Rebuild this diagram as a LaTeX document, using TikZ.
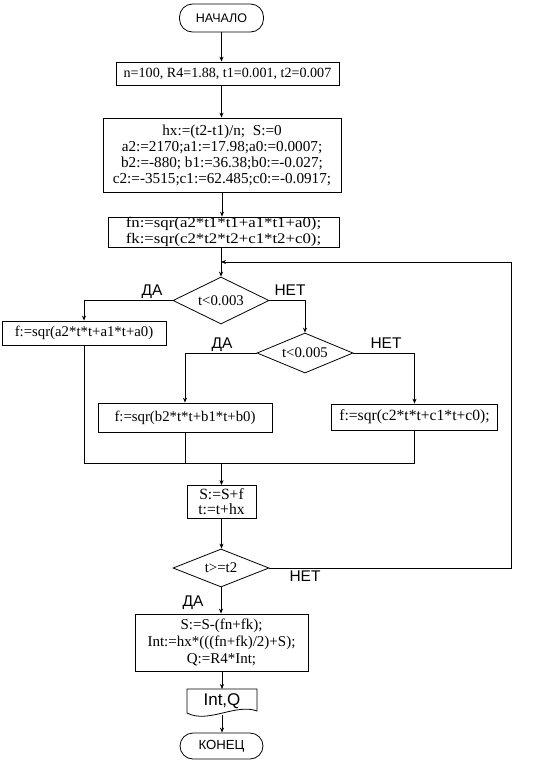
\documentclass[tikz,border=0pt]{standalone}
\usepackage{fontspec}
\setmainfont{Liberation Serif}
\setsansfont{Liberation Sans}
\newfontfamily\wideserif[FakeStretch=1.15]{Liberation Serif}
\usetikzlibrary{shapes.geometric,arrows.meta}
\begin{document}
\begin{tikzpicture}[x=1pt,y=-1pt,
  line width=0.8pt,
  every node/.style={font=\fontsize{14.8}{16}\selectfont, align=center, inner sep=0pt},
  box/.style={draw, rectangle},
  term/.style={draw, rectangle, rounded corners=13pt},
  cond/.style={draw, diamond, aspect=2, minimum width=96pt},
  lbl/.style={font=\sffamily\fontsize{15.5}{17}\selectfont},
  arr/.style={-{Stealth[length=5pt,width=4pt]}}]
\useasboundingbox (0,0) rectangle (533,777);

\node[term, minimum width=84pt, minimum height=28pt, font=\sffamily\fontsize{12.5}{14}\selectfont] (start) at (221.5,18) {НАЧАЛО};
\node[box, minimum width=223pt, minimum height=23pt, font=\fontsize{14.1}{16}\selectfont] (box1) at (227.5,73.5) {n=100, R4=1.88, t1=0.001, t2=0.007};
\node[box, minimum width=238pt, minimum height=74pt, font=\fontsize{15.2}{16}\selectfont] (box2) at (222,155) {hx:=(t2-t1)/n;\ \ S:=0\\a2:=2170;a1:=17.98;a0:=0.0007;\\b2:=-880; b1:=36.38;b0:=-0.027;\\c2:=-3515;c1:=62.485;c0:=-0.0917;};
\node[box, minimum width=231pt, minimum height=30pt, font=\wideserif\fontsize{14.6}{16}\selectfont] (box3) at (223.5,232) {fn:=sqr(a2*t1*t1+a1*t1+a0);\\fk:=sqr(c2*t2*t2+c1*t2+c0);};
\node[cond, minimum height=47pt] (d1) at (221,300.5) {t<0.003};
\node[box, minimum width=164pt, minimum height=24pt] (bA) at (84,333) {f:=sqr(a2*t*t+a1*t+a0)};
\node[cond, minimum height=40pt] (d2) at (305,353) {t<0.005};
\node[box, minimum width=174pt, minimum height=29pt] (bB) at (185,417.5) {f:=sqr(b2*t*t+b1*t+b0)};
\node[box, minimum width=166pt, minimum height=26pt, font=\fontsize{15.6}{16}\selectfont] (bC) at (414.5,417) {f:=sqr(c2*t*t+c1*t+c0);};
\node[box, minimum width=69pt, minimum height=33pt, font=\fontsize{15.6}{15}\selectfont] (bS) at (221.5,502) {S:=S+f\\t:=t+hx};
\node[cond, minimum height=38pt, font=\fontsize{14.8}{16}\selectfont] (d3) at (221,568) {t>=t2};
\node[box, minimum width=173pt, minimum height=57pt, font=\fontsize{15}{16.7}\selectfont] (bF) at (221.5,642.5) {S:=S-(fn+fk);\\Int:=hx*(((fn+fk)/2)+S);\\Q:=R4*Int;};
\node[minimum width=70pt, minimum height=22pt, font=\sffamily\fontsize{17}{18}\selectfont] (out) at (222,701) {Int,Q};
\draw (187,689) -- (257,689) -- (257,711) .. controls (236,703) and (208,724) .. (187,713) -- cycle;
\coordinate (outtop) at (222,689);
\coordinate (outbot) at (222,715);
\node[term, minimum width=83pt, minimum height=26pt, font=\sffamily\fontsize{13.2}{14}\selectfont] (end) at (221.5,746) {КОНЕЦ};

\node[lbl] (l1) at (152,292) {ДА};
\node[lbl] (l2) at (290,290) {НЕТ};
\node[lbl] (l3) at (222,345) {ДА};
\node[lbl] (l4) at (386,343) {НЕТ};
\node[lbl] (l5) at (305,576) {НЕТ};
\node[lbl] (l6) at (193,603) {ДА};

\coordinate (loopR) at (511,262);
\coordinate (join) at (d1.north |- loopR);
\coordinate (m) at (222,463);

\draw[arr] (start.south) -- (start.south |- box1.north);
\draw[arr] (start.south |- box1.south) -- (start.south |- box2.north);
\draw[arr] (box2.south) -- (box2.south |- box3.north);
\draw[arr] (box3.south -| d1.north) -- (d1.north);
\draw[arr] (d3.east) -- (d3.east -| loopR) -- (loopR) -- (join);
\draw[arr] (d1.west) -| (bA.north);
\draw[arr] (d1.east) -| (d2.north);
\draw[arr] (d2.west) -| (bB.north);
\draw[arr] (d2.east) -| (bC.north);
\draw (bA.south) -- (bA.south |- m) -- (bC.south |- m) -- (bC.south);
\draw (bB.south) -- (bB.south |- m);
\draw[arr] (bS.north |- m) -- (bS.north);
\draw[arr] (bS.south) -- (bS.south |- d3.north);
\draw[arr] (d3.south) -- (d3.south |- bF.north);
\draw[arr] (bF.south -| outtop) -- (outtop);
\draw[arr] (outbot) -- (outbot |- end.north);
\end{tikzpicture}
\end{document}
